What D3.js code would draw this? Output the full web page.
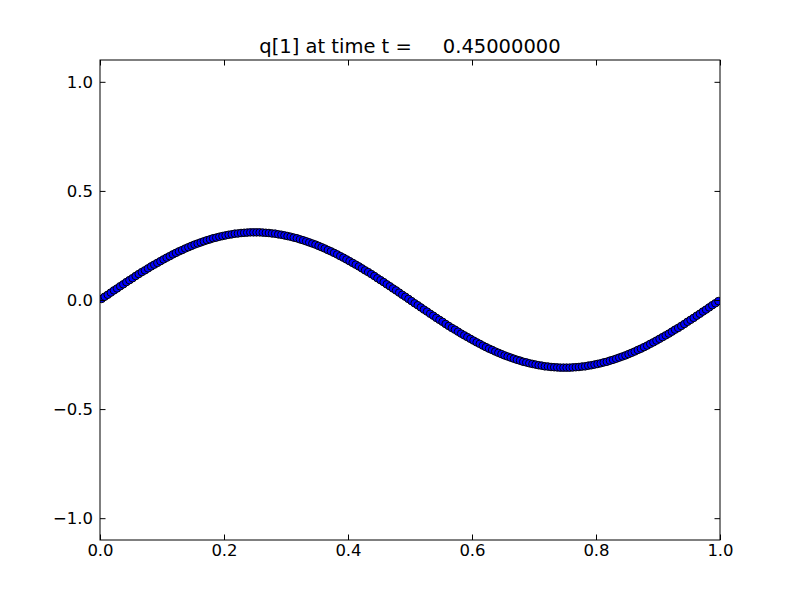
<!DOCTYPE html>
<html>
<head>
<meta charset="utf-8">
<script src="https://cdn.jsdelivr.net/npm/d3@7"></script>
<style>
  html, body { margin: 0; padding: 0; background: #fff; }
  svg { display: block; }
  text { font-family: "DejaVu Sans", sans-serif; }
</style>
</head>
<body>
<svg id="chart" width="800" height="600"></svg>
<script>
// Title and tick labels
const titleText = "q[1] at time t =     0.45000000";
const xTicks = [0.0, 0.2, 0.4, 0.6, 0.8, 1.0];
const yTicks = [-1.0, -0.5, 0.0, 0.5, 1.0];
const xDomain = [0, 1];
const yDomain = [-1.1, 1.1];

// 200 cell-centred samples of q[1]
const qValues = [
  0.005, 0.015, 0.024, 0.034, 0.044, 0.053, 0.063, 0.072, 0.082, 0.091,
  0.100, 0.110, 0.119, 0.128, 0.136, 0.145, 0.154, 0.162, 0.170, 0.178,
  0.186, 0.194, 0.201, 0.209, 0.216, 0.223, 0.229, 0.236, 0.242, 0.248,
  0.254, 0.259, 0.264, 0.269, 0.274, 0.278, 0.283, 0.286, 0.290, 0.293,
  0.296, 0.299, 0.301, 0.304, 0.305, 0.307, 0.308, 0.309, 0.310, 0.310,
  0.310, 0.310, 0.309, 0.308, 0.307, 0.305, 0.304, 0.301, 0.299, 0.296,
  0.293, 0.290, 0.286, 0.283, 0.278, 0.274, 0.269, 0.264, 0.259, 0.254,
  0.248, 0.242, 0.236, 0.229, 0.223, 0.216, 0.209, 0.201, 0.194, 0.186,
  0.178, 0.170, 0.162, 0.154, 0.145, 0.136, 0.128, 0.119, 0.110, 0.100,
  0.091, 0.082, 0.072, 0.063, 0.053, 0.044, 0.034, 0.024, 0.015, 0.005,
  -0.005, -0.015, -0.024, -0.034, -0.044, -0.053, -0.063, -0.072, -0.082, -0.091,
  -0.100, -0.110, -0.119, -0.128, -0.136, -0.145, -0.154, -0.162, -0.170, -0.178,
  -0.186, -0.194, -0.201, -0.209, -0.216, -0.223, -0.229, -0.236, -0.242, -0.248,
  -0.254, -0.259, -0.264, -0.269, -0.274, -0.278, -0.283, -0.286, -0.290, -0.293,
  -0.296, -0.299, -0.301, -0.304, -0.305, -0.307, -0.308, -0.309, -0.310, -0.310,
  -0.310, -0.310, -0.309, -0.308, -0.307, -0.305, -0.304, -0.301, -0.299, -0.296,
  -0.293, -0.290, -0.286, -0.283, -0.278, -0.274, -0.269, -0.264, -0.259, -0.254,
  -0.248, -0.242, -0.236, -0.229, -0.223, -0.216, -0.209, -0.201, -0.194, -0.186,
  -0.178, -0.170, -0.162, -0.154, -0.145, -0.136, -0.128, -0.119, -0.110, -0.100,
  -0.091, -0.082, -0.072, -0.063, -0.053, -0.044, -0.034, -0.024, -0.015, -0.005
];
const xValues = qValues.map((_, i) => (i + 0.5) / qValues.length);
const points = qValues.map((q, i) => ({ x: xValues[i], q }));

(function () {
  const svg = d3.select("#chart");
  const mL = 100, mR = 720, mT = 60, mB = 540;

  const x = d3.scaleLinear().domain(xDomain).range([mL, mR]);
  const y = d3.scaleLinear().domain(yDomain).range([mB, mT]);

  const fmt = d => d3.format(".1f")(d).replace("-", "\u2212");

  svg.append("clipPath").attr("id", "clip")
    .append("rect").attr("x", mL).attr("y", mT)
    .attr("width", mR - mL).attr("height", mB - mT);

  svg.append("g").attr("clip-path", "url(#clip)")
    .selectAll("circle").data(points).join("circle")
    .attr("cx", d => x(d.x)).attr("cy", d => y(d.q)).attr("r", 3.8)
    .attr("fill", "#0000ff").attr("stroke", "#000").attr("stroke-width", 1);

  const tickLen = 5.5;
  const gB = svg.append("g").attr("transform", `translate(0,${mB})`)
    .call(d3.axisBottom(x).tickValues(xTicks).tickFormat(fmt).tickSizeInner(-tickLen).tickSizeOuter(0).tickPadding(8));
  const gT = svg.append("g").attr("transform", `translate(0,${mT})`)
    .call(d3.axisTop(x).tickValues(xTicks).tickFormat(() => "").tickSizeInner(-tickLen).tickSizeOuter(0));
  const gL = svg.append("g").attr("transform", `translate(${mL},0)`)
    .call(d3.axisLeft(y).tickValues(yTicks).tickFormat(fmt).tickSizeInner(-tickLen).tickSizeOuter(0).tickPadding(8));
  const gR = svg.append("g").attr("transform", `translate(${mR},0)`)
    .call(d3.axisRight(y).tickValues(yTicks).tickFormat(() => "").tickSizeInner(-tickLen).tickSizeOuter(0));

  [gB, gT, gL, gR].forEach(g => {
    g.select(".domain").remove();
    g.selectAll(".tick line").attr("stroke", "#000").attr("stroke-width", 1);
    g.selectAll(".tick text").attr("fill", "#000")
      .style("font-family", "'DejaVu Sans', sans-serif").style("font-size", "16.5px");
  });
  gB.selectAll(".tick text").attr("y", 4);
  gL.selectAll(".tick text").attr("x", -7);

  svg.append("rect").attr("x", mL).attr("y", mT)
    .attr("width", mR - mL).attr("height", mB - mT)
    .attr("fill", "none").attr("stroke", "#000").attr("stroke-width", 1);

  svg.append("text").attr("x", (mL + mR) / 2).attr("y", 53)
    .attr("text-anchor", "middle").style("font-size", "19.5px").style("white-space", "pre")
    .attr("fill", "#000").text(titleText);
})();
</script>
</body>
</html>
